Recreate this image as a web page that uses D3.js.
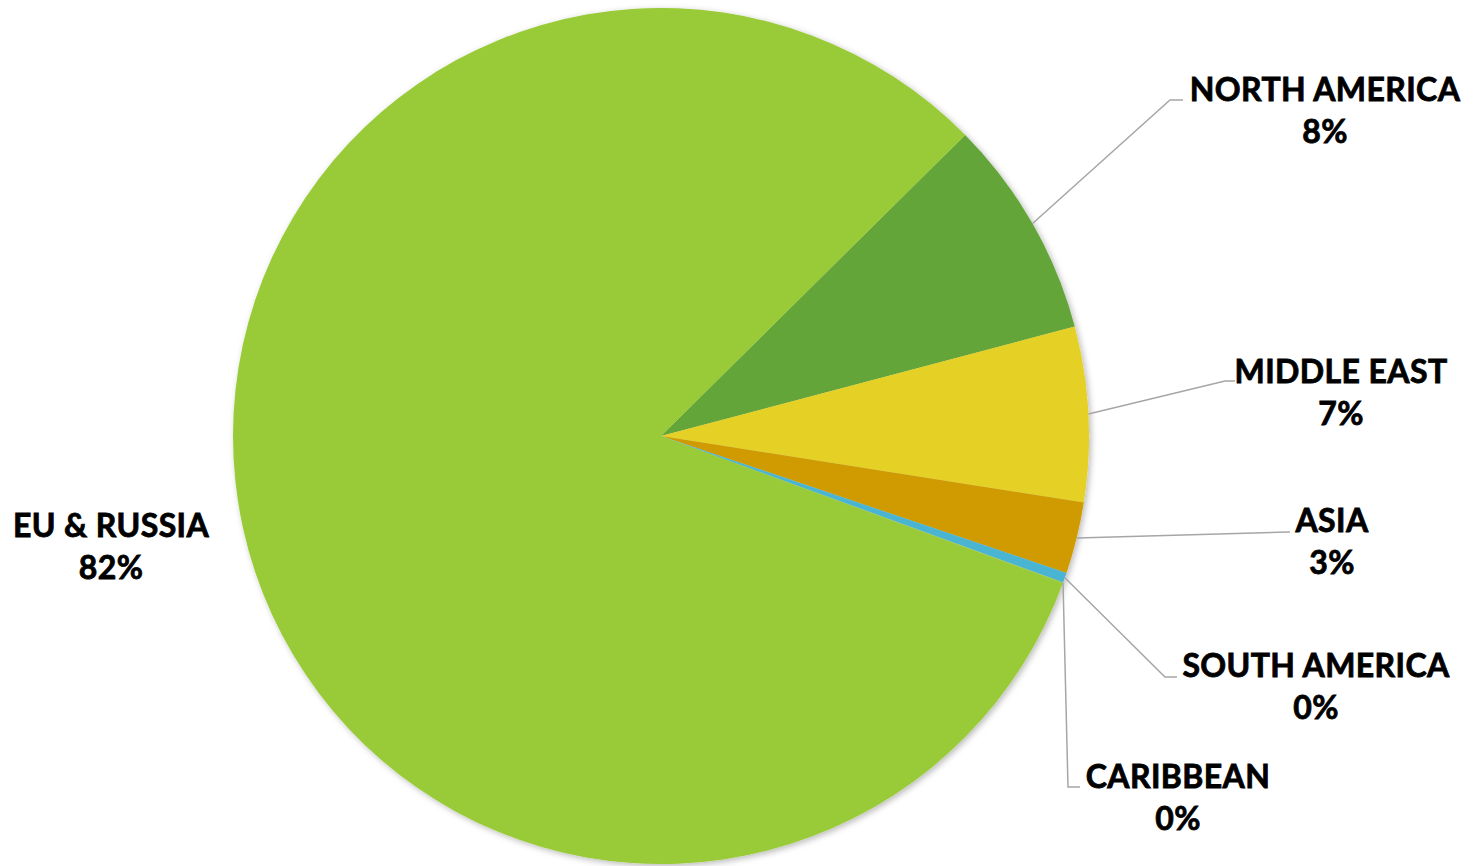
<!DOCTYPE html>
<html>
<head>
<meta charset="utf-8">
<script src="https://cdn.jsdelivr.net/npm/d3@7/dist/d3.min.js"></script>
<style>
  html, body { margin: 0; padding: 0; background: #ffffff; }
  svg { display: block; }
  text { font-family: "Lato", "Open Sans", sans-serif; font-weight: 700; fill: #000; stroke: #000; stroke-width: 0.8px; letter-spacing: 0.4px; }
</style>
</head>
<body>
<svg id="chart" width="1479" height="866"></svg>
<script>
// ---- data ----
const categories = ["NORTH AMERICA", "MIDDLE EAST", "ASIA", "SOUTH AMERICA", "CARIBBEAN", "EU & RUSSIA"];
const values = [8.3, 6.6, 2.7, 0.38, 0.02, 82.0];
const percentLabels = ["8%", "7%", "3%", "0%", "0%", "82%"];
const colors = ["#63A537", "#E5D125", "#CF9B00", "#4AB5D3", "#99CB38", "#99CB38"];

// ---- layout (label anchors: elbow point, text centre, first baseline) ----
const layout = [
  { elbow: [1170, 100], end: [1183, 100], tx: 1325, ty: 101 },
  { elbow: [1225, 381], end: [1235, 381], tx: 1341, ty: 383 },
  { elbow: [1288, 532], end: [1290, 532], tx: 1332, ty: 532 },
  { elbow: [1165, 677], end: [1177, 677], tx: 1316, ty: 677 },
  { elbow: [1068, 787], end: [1080, 787], tx: 1178, ty: 788 },
  null
];
const euLabel = { tx: 111, ty: 537 };

const svg = d3.select("#chart");
const cx = 661, cy = 436, R = 428;
const startDeg = 45.3;

const defs = svg.append("defs");
const f = defs.append("filter").attr("id", "shadow").attr("x", "-10%").attr("y", "-10%").attr("width", "120%").attr("height", "120%");
f.append("feDropShadow").attr("dx", 2).attr("dy", 2).attr("stdDeviation", 3).attr("flood-color", "#000").attr("flood-opacity", 0.28);

const data = categories.map((c, i) => ({ name: c, value: values[i], pct: percentLabels[i], color: colors[i], lay: layout[i] }));

const pie = d3.pie().value(d => d.value).sort(null)
  .startAngle(startDeg * Math.PI / 180)
  .endAngle(startDeg * Math.PI / 180 + 2 * Math.PI);
const arcs = pie(data);
const arc = d3.arc().innerRadius(0).outerRadius(R);

const g = svg.append("g").attr("transform", `translate(${cx},${cy})`);
const pg = g.append("g").attr("filter", "url(#shadow)");
pg.selectAll("path").data(arcs).enter().append("path")
  .attr("d", arc)
  .attr("fill", d => d.data.color);

// leader lines
const lineG = svg.append("g");
arcs.forEach(a => {
  const L = a.data.lay;
  if (!L) return;
  const mid = (a.startAngle + a.endAngle) / 2;
  const sx = cx + R * Math.sin(mid), sy = cy - R * Math.cos(mid);
  lineG.append("polyline")
    .attr("points", [[sx, sy], L.elbow, L.end].map(p => p.join(",")).join(" "))
    .attr("fill", "none")
    .attr("stroke", "#A6A6A6")
    .attr("stroke-width", 1.5);
});

// labels
const fontSize = 32;
const lineGap = 42;
const labelG = svg.append("g");
arcs.forEach(a => {
  const L = a.data.lay || euLabel;
  const t = labelG.append("text")
    .attr("text-anchor", "middle")
    .attr("font-size", fontSize);
  t.append("tspan").attr("x", L.tx).attr("y", L.ty).text(a.data.name);
  t.append("tspan").attr("x", L.tx).attr("y", L.ty + lineGap).text(a.data.pct);
});
</script>
</body>
</html>
